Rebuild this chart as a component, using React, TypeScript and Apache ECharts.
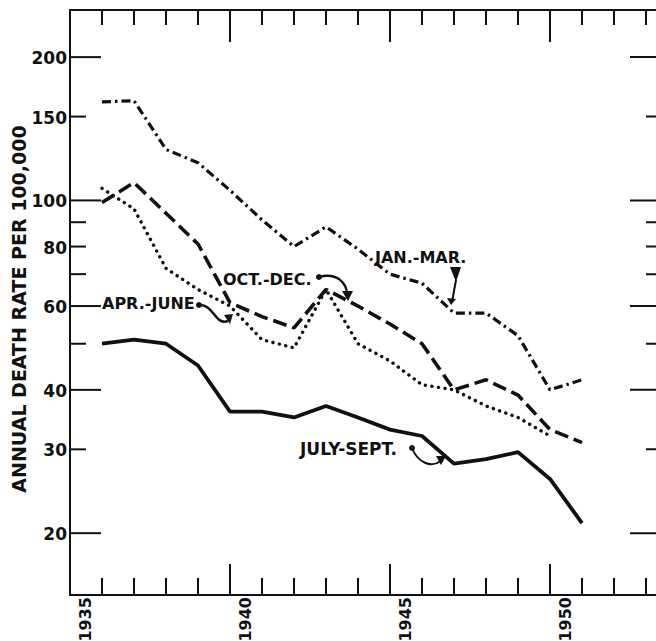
import React, { useEffect, useRef } from "react";
import * as echarts from "echarts";

// ---- data ----
const years = [1936, 1937, 1938, 1939, 1940, 1941, 1942, 1943, 1944, 1945, 1946, 1947, 1948, 1949, 1950, 1951];
const janMar = [161, 162, 128, 120, 105, 91, 80, 88, 79, 70, 67, 58, 58, 52, 40, 42];
const aprJune = [106, 96, 72, 65, 60, 51, 49, 65, 50, 46, 41, 40, 37, 35, 32];
const julySept = [50, 51, 50, 45, 36, 36, 35, 37, 35, 33, 32, 28, 28.6, 29.6, 26, 21];
const octDec = [99, 109, 94, 81, 61, 57, 54, 65, 60, 55, 50, 40, 42, 39, 33, 31];

const yTickValues = [20, 30, 40, 50, 60, 70, 80, 90, 100, 150, 200];
const yTickLabels = ["20", "30", "40", "", "60", "", "80", "", "100", "150", "200"];
const yMajorTicks = [20, 40, 60, 100, 200];
const yearLabels = [1935, 1940, 1945, 1950];

const X_MIN = 1935;
const X_MAX = 1955;
const Y_MIN = 14.83;
const Y_MAX = 251.2;

const INK = "#111";
const FONT = '"DejaVu Sans", sans-serif';

const pairs = (vals: number[]) => vals.map((v, i) => [years[i], v]);

export default function App() {
  const ref = useRef<HTMLDivElement>(null);

  useEffect(() => {
    document.body.style.margin = "0";
    if (!ref.current) return;
    const chart = echarts.init(ref.current, null, { renderer: "svg" });

    const xAxisBase = (position: "bottom" | "top", major: number, minor: number) => ({
      type: "value",
      position,
      min: X_MIN,
      max: X_MAX,
      interval: 5,
      axisLine: { show: true, lineStyle: { color: INK, width: 2 } },
      axisTick: { show: true, inside: true, length: major, lineStyle: { color: INK, width: 2 } },
      minorTick: { show: true, splitNumber: 5, length: minor, lineStyle: { color: INK, width: 2 } },
      axisLabel: { show: false },
      splitLine: { show: false },
      minorSplitLine: { show: false },
    });

    const label = (text: string, x: number, y: number, size = 16) => ({
      type: "text",
      x,
      y,
      style: { text, font: `bold ${size}px ${FONT}`, fill: INK, align: "left", verticalAlign: "middle" },
    });

    const option: any = {
      animation: false,
      backgroundColor: "#fff",
      grid: { left: 70, top: 10, width: 640, height: 585 },
      xAxis: [xAxisBase("bottom", 31, 17), xAxisBase("top", 32, 15)],
      yAxis: {
        type: "log",
        logBase: 10,
        min: Y_MIN,
        max: Y_MAX,
        axisLine: { show: true, lineStyle: { color: INK, width: 2 } },
        axisTick: { show: false },
        axisLabel: { show: false },
        splitLine: { show: false },
      },
      graphic: [
        {
          type: "text",
          x: 19,
          y: 309,
          rotation: Math.PI / 2,
          style: {
            text: "ANNUAL DEATH RATE PER 100,000",
            font: `bold 19px ${FONT}`,
            fill: INK,
            align: "center",
            verticalAlign: "middle",
          },
        },
        // annotations
        label("JAN.-MAR.", 375, 257),
        label("OCT.-DEC.", 223, 279),
        label("APR.-JUNE", 102, 303),
        label("JULY-SEPT.", 300, 449, 17),
        // JAN-MAR pointer
        { type: "polygon", shape: { points: [[450, 267], [461, 267], [456, 282]] }, style: { fill: INK } },
        { type: "line", shape: { x1: 456, y1: 280, x2: 452, y2: 302 }, style: { stroke: INK, lineWidth: 2 } },
        { type: "polygon", shape: { points: [[447, 298], [456, 299], [451, 305]] }, style: { fill: INK } },
        // OCT-DEC arrow
        { type: "circle", shape: { cx: 319, cy: 277, r: 3 }, style: { fill: INK } },
        { type: "bezierCurve", shape: { x1: 319, y1: 277, cpx1: 337, cpy1: 272, cpx2: 347, cpy2: 283, x2: 347, y2: 295 }, style: { stroke: INK, lineWidth: 2.5, fill: "none" } },
        { type: "polygon", shape: { points: [[342, 291], [353, 291], [348, 301]] }, style: { fill: INK } },
        // APR-JUNE arrow
        { type: "circle", shape: { cx: 199, cy: 305, r: 3 }, style: { fill: INK } },
        { type: "bezierCurve", shape: { x1: 199, y1: 305, cpx1: 214, cpy1: 304, cpx2: 215, cpy2: 326, x2: 228, y2: 321 }, style: { stroke: INK, lineWidth: 2.5, fill: "none" } },
        { type: "polygon", shape: { points: [[224, 315], [233, 314], [230, 324]] }, style: { fill: INK } },
        // JULY-SEPT arrow
        { type: "circle", shape: { cx: 412, cy: 448, r: 3 }, style: { fill: INK } },
        { type: "bezierCurve", shape: { x1: 412, y1: 448, cpx1: 418, cpy1: 463, cpx2: 431, cpy2: 468, x2: 441, y2: 461 }, style: { stroke: INK, lineWidth: 2, fill: "none" } },
        { type: "polygon", shape: { points: [[436, 456], [446, 456], [441, 465]] }, style: { fill: INK } },
      ],
      series: [
        {
          name: "JAN.-MAR.",
          type: "line",
          data: pairs(janMar),
          symbol: "none",
          lineStyle: { color: INK, width: 3.2, type: [9, 4, 2.5, 4] },
        },
        {
          name: "OCT.-DEC.",
          type: "line",
          data: pairs(octDec),
          symbol: "none",
          lineStyle: { color: INK, width: 3.6, type: [14, 6] },
        },
        {
          name: "APR.-JUNE",
          type: "line",
          data: pairs(aprJune),
          symbol: "none",
          lineStyle: { color: INK, width: 3.4, type: [0.1, 6.5], cap: "round" },
        },
        {
          name: "JULY-SEPT.",
          type: "line",
          data: pairs(julySept),
          symbol: "none",
          lineStyle: { color: INK, width: 3.8 },
        },
        {
          name: "yTicks",
          type: "custom",
          coordinateSystem: "cartesian2d",
          clip: false,
          silent: true,
          data: yTickValues.map((v, i) => [X_MIN, v, yMajorTicks.includes(v) ? 1 : 0, i]),
          renderItem: (params: any, api: any) => {
            const v = api.value(1);
            const major = api.value(2) === 1;
            const idx = api.value(3);
            const pL = api.coord([X_MIN, v]);
            const pR = api.coord([X_MAX, v]);
            const children: any[] = [
              { type: "line", shape: { x1: pL[0], y1: pL[1], x2: pL[0] + (major ? 31 : 16), y2: pL[1] }, style: { stroke: INK, lineWidth: 2 } },
              { type: "line", shape: { x1: pR[0] - (major ? 80 : 64), y1: pR[1], x2: pR[0], y2: pR[1] }, style: { stroke: INK, lineWidth: 2 } },
            ];
            const text = yTickLabels[idx];
            if (text) {
              children.push({
                type: "text",
                x: pL[0] - 3,
                y: pL[1] + 1,
                style: { text, font: `bold 17px ${FONT}`, fill: INK, align: "right", verticalAlign: "middle" },
              });
            }
            return { type: "group", children };
          },
        },
        {
          name: "yearLabels",
          type: "custom",
          coordinateSystem: "cartesian2d",
          clip: false,
          silent: true,
          data: yearLabels.map((y) => [y, Y_MIN]),
          renderItem: (params: any, api: any) => {
            const yr = api.value(0);
            const p = api.coord([yr, Y_MIN]);
            return {
              type: "text",
              x: p[0] + 15,
              y: p[1] + 2,
              rotation: Math.PI / 2,
              style: { text: String(yr), font: `bold 16px ${FONT}`, fill: INK, align: "right", verticalAlign: "middle" },
            };
          },
        },
      ],
    };

    chart.setOption(option);
    return () => chart.dispose();
  }, []);

  return (
    <div style={{ width: 656, height: 641, overflow: "hidden", position: "relative" }}>
      <div ref={ref} style={{ width: 720, height: 641 }} />
    </div>
  );
}
